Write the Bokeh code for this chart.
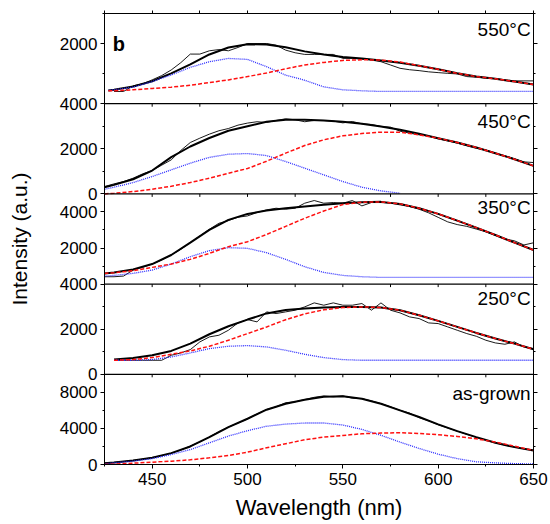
import math
import numpy as np
from bokeh.plotting import figure
from bokeh.models import Range1d, LinearAxis, FixedTicker, CustomJSTickFormatter, Span
from bokeh.embed import file_html
from bokeh.resources import INLINE
from bokeh.core.properties import value

NaN = float("nan")

# ---------------- data ----------------
panel_labels = ["550\u00b0C", "450\u00b0C", "350\u00b0C", "250\u00b0C", "as-grown"]
y_lo = [0, 0, 0, 0, 0]
y_hi = [3000, 4000, 5000, 4000, 10000]
y_major = [[0, 2000], [0, 2000, 4000], [0, 2000, 4000], [0, 2000, 4000], [0, 4000, 8000]]
y_minor = [[1000, 3000], [1000, 3000], [1000, 3000, 5000], [1000, 3000], [2000, 6000, 10000]]
x_major = [450, 500, 550, 600, 650]
x_minor = [425, 475, 525, 575, 625]

# wavelengths of the smooth (fitted) curves: first point = start of each panel's curve
fit_start = [427, 425, 425, 430, 425]
wl_fit = [430, 440, 450, 460, 470, 480, 490, 500, 510, 520, 530, 540,
          550, 560, 570, 580, 590, 600, 610, 620, 630, 640, 650]
# wavelengths of the measured spectra
wl_raw = [425, 430, 435, 440, 445, 450, 455, 460, 465, 470, 475, 480, 485, 490,
          495, 500, 505, 510, 515, 520, 525, 530, 535, 540, 545, 550, 555, 560,
          565, 570, 575, 580, 585, 590, 595, 600, 605, 610, 615, 620, 625, 630,
          635, 640, 645, 650]

# 550 C
raw1 = [NaN, 407, 407, 594, 660, 792, 935, 1122, 1364, 1650, 1650, 1760, 1800, 1760,
        1870, 2002, 2002, 2002, 1947, 1782, 1694, 1639, 1639, 1639, 1639, 1507, 1507, 1485,
        1452, 1397, 1287, 1177, 1130, 1100, 1060, 1034, 1010, 990, 902, 880, 847, 836,
        792, 759, 759, 759]
fit1 = [440, 462, 571, 747, 1011, 1308, 1637, 1868, 1978, 1967, 1879, 1740, 1640,
        1550, 1500, 1440, 1363, 1264, 1143, 1011, 901, 830, 736, 640]
blue1 = [440, 462, 550, 737, 956, 1209, 1396, 1506, 1473, 1231, 950, 780, 560,
         462, 429, 407, 407, 407, 407, 407, 407, 407, 407, 407]
red1 = [430, 429, 462, 506, 550, 615, 703, 791, 901, 1022, 1160, 1290, 1374,
        1440, 1462, 1451, 1385, 1264, 1143, 1011, 901, 830, 736, 640]

# 450 C
raw2 = [326, 444, 548, 696, 888, 1036, 1273, 1510, 1924, 2279, 2472, 2650, 2800, 2900,
        3049, 3140, 3200, 3167, 3256, 3330, 3286, 3200, 3256, 3256, 3230, 3150, 3212, 3108,
        3080, 2990, 2960, 2780, 2694, 2620, 2560, 2440, 2350, 2250, 2130, 2020, 1950, 1800,
        1690, 1560, 1420, 1391]
fit2 = [296, 400, 651, 1036, 1628, 2102, 2480, 2800, 3000, 3200, 3286, 3286, 3256,
        3197, 3108, 2990, 2842, 2664, 2472, 2279, 2057, 1806, 1539, 1243]
blue2 = [207, 296, 503, 770, 1066, 1362, 1620, 1760, 1790, 1700, 1436, 1140, 844,
         548, 296, 133, 30, NaN, NaN, NaN, NaN, NaN, NaN, NaN]
red2 = [0, 30, 104, 207, 340, 503, 696, 918, 1125, 1450, 1806, 2146, 2398,
        2575, 2679, 2738, 2738, 2620, 2472, 2279, 2057, 1806, 1539, 1243]

# 350 C
raw3 = [408, 408, 445, 778, 927, 1112, 1334, 1612, 1927, 2298, 2668, 3039, 3372, 3521,
        3706, 3780, 3965, 4114, 4206, 4151, 4206, 4484, 4633, 4484, 4521, 4484, 4633, 4336,
        4521, 4521, 4484, 4392, 4299, 4151, 3950, 3700, 3450, 3300, 3200, 3050, 2900, 2700,
        2500, 2400, 2170, 2290]
fit3 = [593, 649, 815, 1112, 1612, 2298, 3002, 3558, 3891, 4077, 4206, 4299, 4392,
        4484, 4540, 4558, 4447, 4206, 3891, 3521, 3132, 2724, 2298, 1890]
blue3 = [445, 482, 593, 778, 1112, 1519, 1853, 2020, 1983, 1742, 1371, 964, 649,
         482, 408, 371, 371, 371, 371, 371, 371, 371, 371, 371]
red3 = [593, 630, 741, 927, 1112, 1371, 1705, 2075, 2350, 2750, 3200, 3650, 4050,
        4410, 4540, 4558, 4447, 4206, 3891, 3521, 3132, 2724, 2298, 1890]

# 250 C
raw4 = [NaN, 622, 622, 622, 622, 622, 622, 844, 947, 1095, 1436, 1658, 1732, 1954,
        2279, 2427, 2324, 2768, 2694, 2768, 2842, 2990, 3167, 3064, 3167, 3064, 3064, 3138,
        2842, 3167, 2842, 2723, 2546, 2472, 2279, 2250, 2102, 1954, 1806, 1687, 1510, 1391,
        1332, 1436, 1214, 1140]
fit4 = [651, 651, 725, 844, 1036, 1362, 1776, 2131, 2427, 2700, 2850, 2920, 2960,
        2980, 2985, 2960, 2842, 2620, 2368, 2102, 1835, 1584, 1362, 1110]
blue4 = [622, 622, 622, 651, 770, 947, 1140, 1243, 1273, 1214, 1066, 888, 740,
         651, 622, 622, 622, 622, 622, 622, 622, 622, 622, 622]
red4 = [622, 622, 651, 740, 888, 1036, 1243, 1510, 1806, 2100, 2420, 2680, 2860,
        2960, 2990, 2960, 2842, 2620, 2368, 2102, 1835, 1584, 1362, 1110]

# as-grown
raw5 = [150, 230, 320, 450, 580, 760, 990, 1250, 1600, 2050, 2500, 3050, 3650, 4150,
        4600, 5050, 5600, 6100, 6400, 6850, 6950, 7200, 7450, 7600, 7500, 7600, 7350, 7300,
        7050, 6750, 6400, 6000, 5700, 5200, 4850, 4400, 4050, 3700, 3350, 3000, 2700, 2400,
        2150, 1950, 1750, 1600]
fit5 = [148, 222, 444, 741, 1259, 2000, 3037, 4148, 5074, 6075, 6741, 7186, 7519,
        7556, 7297, 6741, 6001, 5260, 4445, 3704, 3037, 2408, 1926, 1556]
blue5 = [74, 185, 370, 650, 1100, 1650, 2400, 3150, 3750, 4240, 4480, 4600, 4600,
         4380, 3890, 3240, 2482, 1780, 1148, 650, 300, 180, 100, 60]
red5 = [0, 37, 148, 259, 370, 518, 741, 1000, 1370, 1852, 2296, 2741, 3037,
        3222, 3407, 3482, 3519, 3445, 3297, 3111, 2852, 2482, 2037, 1556]

raws = [raw1, raw2, raw3, raw4, raw5]
fits = [fit1, fit2, fit3, fit4, fit5]
blues = [blue1, blue2, blue3, blue4, blue5]
reds = [red1, red2, red3, red4, red5]

# ---------------- layout ----------------
FONT = "Liberation Sans"
NP = 5
label_dy = [0.18, 0.20, 0.15, 0.16, 0.21]

p = figure(frame_width=429, frame_height=451,
           x_range=Range1d(425, 650), y_range=Range1d(0, NP),
           output_backend="svg", toolbar_location=None,
           min_border_left=104, min_border_right=16, min_border_top=13, min_border_bottom=0)
p.xgrid.visible = False
p.ygrid.visible = False
p.outline_line_color = "black"
p.outline_line_width = 1
p.background_fill_color = "white"
p.border_fill_color = "white"

# per-panel y ranges (each panel occupies one slot of the frame)
tick_pos = {}
minor_pos = []
for k in range(NP):
    b = NP - 1 - k
    lo, hi = y_lo[k], y_hi[k]
    span = hi - lo
    p.extra_y_ranges[f"p{k}"] = Range1d(start=lo - b * span, end=hi + (NP - 1 - b) * span)
    for v in y_major[k]:
        tick_pos[round(b + (v - lo) / span, 6)] = f"{v}"
    for v in y_minor[k]:
        minor_pos.append(b + (v - lo) / span)

pos_list = sorted(tick_pos.keys())
lab_list = [tick_pos[q] for q in pos_list]

fmt_code = """
for (let i = 0; i < pos.length; i++) {
  if (Math.abs(tick - pos[i]) < 1e-6) { return lab[i]; }
}
return "";
"""

# left axis
ya = p.yaxis[0]
ya.ticker = FixedTicker(ticks=pos_list, minor_ticks=minor_pos)
ya.formatter = CustomJSTickFormatter(args=dict(pos=pos_list, lab=lab_list), code=fmt_code)
ya.major_label_text_font = FONT
ya.major_label_text_font_size = "17px"
ya.major_label_text_color = "black"
ya.major_label_standoff = 3
ya.major_tick_out = 4
ya.major_tick_in = 0
ya.minor_tick_out = 2
ya.minor_tick_in = 0
ya.axis_line_color = "black"
ya.axis_label = "Intensity (a.u.)"
ya.axis_label_text_font = FONT
ya.axis_label_text_font_size = "21px"
ya.axis_label_text_font_style = "normal"
ya.axis_label_text_color = "black"
ya.axis_label_standoff = 26

# bottom axis
xa = p.xaxis[0]
xa.ticker = FixedTicker(ticks=x_major, minor_ticks=x_minor)
xa.major_label_text_font = FONT
xa.major_label_text_font_size = "17px"
xa.major_label_text_color = "black"
xa.major_label_standoff = 4
xa.major_tick_out = 4
xa.major_tick_in = 0
xa.minor_tick_out = 2
xa.minor_tick_in = 0
xa.axis_line_color = "black"
xa.axis_label = "Wavelength (nm)"
xa.axis_label_text_font = FONT
xa.axis_label_text_font_size = "22px"
xa.axis_label_text_font_style = "normal"
xa.axis_label_text_color = "black"
xa.axis_label_standoff = 7

blank = "return '';"

# right axis (ticks only)
ra = LinearAxis(ticker=FixedTicker(ticks=pos_list, minor_ticks=minor_pos),
                formatter=CustomJSTickFormatter(code=blank),
                major_label_text_font_size="0px", major_label_standoff=0,
                major_tick_out=4, major_tick_in=0, minor_tick_out=2, minor_tick_in=0,
                axis_line_color="black")
p.add_layout(ra, "right")

# top axis (ticks only)
all_x = sorted(x_major + x_minor)
ta = LinearAxis(ticker=FixedTicker(ticks=all_x, minor_ticks=[]),
                formatter=CustomJSTickFormatter(code=blank),
                major_label_text_font_size="0px", major_label_standoff=0,
                major_tick_out=3, major_tick_in=0, axis_line_color="black")
p.add_layout(ta, "above")

# panel separators and their tick marks (pointing into the lower panel)
bx, by = [], []
for b in range(1, NP):
    p.add_layout(Span(location=b, dimension="width", line_color="black", line_width=1.2))
    for xv in all_x:
        bx.append(xv)
        by.append(b)
p.ray(x=bx, y=by, length=3, length_units="screen", angle=-math.pi / 2,
      line_color="black", line_width=1)

# curves
for k in range(NP):
    rn = f"p{k}"
    wl_s = np.array([fit_start[k]] + wl_fit, dtype=float)
    p.line(np.array(wl_raw, dtype=float), np.array(raws[k], dtype=float),
           y_range_name=rn, line_color="black", line_width=0.9)
    p.line(wl_s, np.array(fits[k], dtype=float), y_range_name=rn,
           line_color="black", line_width=2.0)
    p.line(wl_s, np.array(blues[k], dtype=float), y_range_name=rn,
           line_color="#2a2aff", line_width=1.3, line_dash="1 1")
    p.line(wl_s, np.array(reds[k], dtype=float), y_range_name=rn,
           line_color="#ff1010", line_width=1.5, line_dash="4 2")

# panel labels
tops = [NP - k for k in range(NP)]
p.text(x=[648.5] * NP, y=[tops[k] - label_dy[k] for k in range(NP)], text=panel_labels,
       text_font=value(FONT), text_font_size="19px", text_align="right",
       text_baseline="middle", text_color="black")
p.text(x=[429.3], y=[NP - 0.34], text=["b"], text_font=value(FONT),
       text_font_size="20px", text_font_style="bold", text_align="left",
       text_baseline="middle", text_color="black")

open("out.html", "w").write(file_html(p, INLINE))
